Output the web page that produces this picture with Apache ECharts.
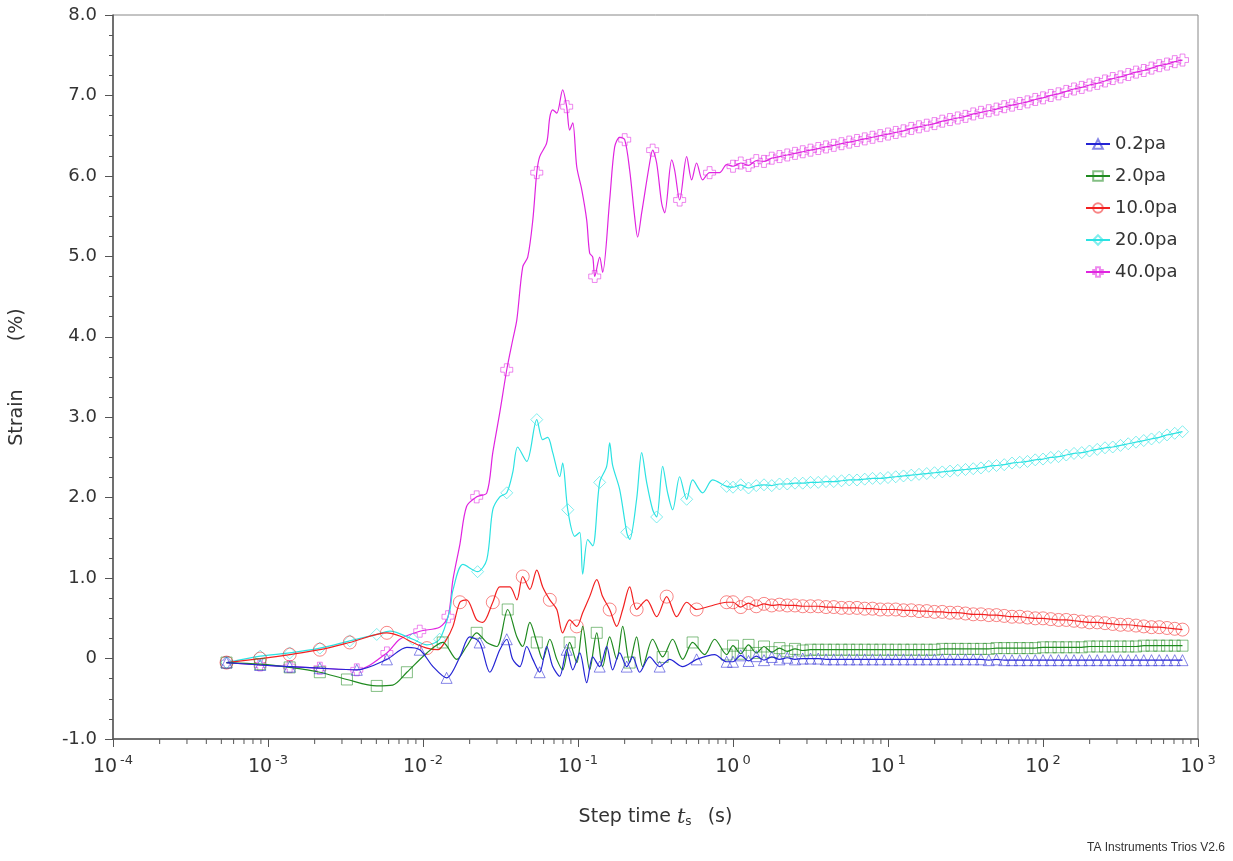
<!DOCTYPE html>
<html><head><meta charset="utf-8">
<script src="https://cdn.jsdelivr.net/npm/echarts@6/dist/echarts.min.js"></script>
<style>html,body{margin:0;padding:0;background:#fff}#c{width:1233px;height:861px}</style>
</head><body><div id="c"></div>
<script>
const seriesNames = ['0.2pa', '2.0pa', '10.0pa', '20.0pa', '40.0pa'];
const xTickExponents = [-4, -3, -2, -1, 0, 1, 2, 3];

// early (oscillating) part: [step time (s), strain (%)]
const early02 = [[5.4e-4,-0.05],[8.9e-4,-0.08],[1.38e-3,-0.10],[2.16e-3,-0.12],[3.74e-3,-0.14],[5.85e-3,-0.01],[7.87e-3,0.14],[9.53e-3,0.11],[0.0116,-0.10],[0.0142,-0.24],[0.0173,0.02],[0.0200,0.27],[0.0232,0.20],[0.0270,-0.17],[0.0313,0.11],[0.0347,0.24],[0.0379,-0.01],[0.0421,-0.10],[0.0467,0.15],[0.0511,-0.01],[0.0566,-0.17],[0.0628,0.15],[0.0687,-0.10],[0.0762,-0.22],[0.0845,0.11],[0.0925,-0.14],[0.1026,0.07],[0.1138,-0.30],[0.1245,0.02],[0.1380,-0.10],[0.1531,0.15],[0.1673,-0.14],[0.1858,0.07],[0.2062,-0.10],[0.2252,0.02],[0.2499,-0.17],[0.2899,0.02],[0.3363,-0.10],[0.3903,-0.01],[0.4733,-0.10],[0.5824,-0.01],[0.7610,0.05],[0.9099,-0.04]];
const early2 = [[5.4e-4,-0.05],[8.9e-4,-0.07],[1.38e-3,-0.11],[2.16e-3,-0.17],[3.23e-3,-0.26],[5.03e-3,-0.34],[6.38e-3,-0.33],[7.87e-3,-0.17],[0.0106,0.07],[0.0134,0.20],[0.0165,-0.01],[0.0191,0.15],[0.0222,0.32],[0.0258,0.20],[0.0299,0.15],[0.0352,0.61],[0.0403,0.27],[0.0440,0.15],[0.0489,0.45],[0.0542,0.20],[0.0592,-0.01],[0.0658,0.24],[0.0730,-0.01],[0.0796,-0.14],[0.0883,0.20],[0.0982,-0.05],[0.1072,0.40],[0.1189,-0.14],[0.1321,0.32],[0.1442,-0.10],[0.1601,0.27],[0.1777,-0.01],[0.1942,0.40],[0.2155,-0.05],[0.2389,0.27],[0.2612,-0.10],[0.3031,0.24],[0.3517,0.02],[0.4080,0.24],[0.4733,-0.01],[0.5489,0.20],[0.6560,0.05],[0.7610,0.24],[0.9099,0.05]];
const early10 = [[5.4e-4,-0.05],[8.9e-4,0.00],[1.38e-3,0.05],[2.16e-3,0.11],[3.37e-3,0.20],[5.85e-3,0.32],[7.08e-3,0.28],[8.59e-3,0.20],[0.0106,0.13],[0.0125,0.11],[0.0140,0.22],[0.0156,0.40],[0.0173,0.70],[0.0191,0.73],[0.0222,0.48],[0.0243,0.45],[0.0282,0.70],[0.0313,0.89],[0.0363,0.89],[0.0403,0.73],[0.0440,1.02],[0.0489,0.86],[0.0542,1.10],[0.0592,0.89],[0.0658,0.73],[0.0730,0.61],[0.0796,0.32],[0.0883,0.48],[0.0982,0.40],[0.1072,0.57],[0.1189,0.77],[0.1321,0.98],[0.1442,0.77],[0.1601,0.61],[0.1777,0.40],[0.1942,0.61],[0.2155,0.89],[0.2389,0.61],[0.2773,0.73],[0.3217,0.52],[0.3733,0.77],[0.4330,0.52],[0.5024,0.70],[0.5824,0.61],[0.7063,0.65],[0.9099,0.70]];
const early20 = [[5.4e-4,-0.05],[8.9e-4,0.03],[1.38e-3,0.07],[2.16e-3,0.13],[3.37e-3,0.22],[5.03e-3,0.30],[6.11e-3,0.34],[8.59e-3,0.24],[0.0106,0.17],[0.0128,0.24],[0.0149,0.60],[0.0156,0.85],[0.0181,1.17],[0.0225,1.08],[0.0258,1.23],[0.0282,1.85],[0.0313,2.01],[0.0347,2.06],[0.0379,2.31],[0.0408,2.63],[0.0467,2.45],[0.0542,2.97],[0.0592,2.72],[0.0638,2.75],[0.0687,2.56],[0.0762,2.26],[0.0796,2.43],[0.0859,1.85],[0.0953,1.52],[0.1026,1.57],[0.1072,1.05],[0.1156,1.48],[0.1245,1.40],[0.1380,2.19],[0.1531,2.39],[0.1601,2.68],[0.1673,2.40],[0.1858,2.10],[0.2062,1.57],[0.2155,1.48],[0.2389,1.98],[0.2575,2.56],[0.2773,2.19],[0.3031,1.85],[0.3217,1.76],[0.3517,2.39],[0.3787,2.06],[0.4080,1.85],[0.4527,2.26],[0.5024,1.98],[0.5489,2.22],[0.6365,2.06],[0.7384,2.22],[0.9099,2.14]];
const early40 = [[5.4e-4,-0.05],[8.9e-4,-0.08],[1.38e-3,-0.10],[2.16e-3,-0.12],[3.74e-3,-0.14],[5.85e-3,0.07],[7.08e-3,0.24],[9.53e-3,0.34],[0.0128,0.39],[0.0145,0.52],[0.0156,0.98],[0.0173,1.42],[0.0191,1.89],[0.0222,2.01],[0.0258,2.06],[0.0282,2.56],[0.0313,3.06],[0.0347,3.59],[0.0379,3.96],[0.0403,4.21],[0.0440,4.87],[0.0474,4.99],[0.0511,5.45],[0.0542,6.04],[0.0566,6.24],[0.0628,6.41],[0.0658,6.73],[0.0687,6.82],[0.0730,6.78],[0.0796,7.07],[0.0845,6.86],[0.0883,6.57],[0.0925,6.66],[0.0982,6.11],[0.1057,5.83],[0.1138,5.45],[0.1189,5.04],[0.1245,4.99],[0.1282,4.75],[0.1380,4.99],[0.1442,4.80],[0.1601,5.70],[0.1724,6.36],[0.1858,6.48],[0.2001,6.45],[0.2155,6.07],[0.2321,5.49],[0.2425,5.24],[0.2575,5.54],[0.2899,6.16],[0.3031,6.32],[0.3217,6.16],[0.3465,5.66],[0.3624,5.54],[0.4022,6.20],[0.4204,6.07],[0.4527,5.70],[0.5024,6.24],[0.5408,5.95],[0.5824,6.16],[0.6365,5.95],[0.7063,6.04],[0.8195,6.04],[0.9099,6.14]];

// late (creep) part: common step times and strain values per series
const lateTime = [1,1.122,1.259,1.413,1.585,1.778,1.995,2.239,2.512,2.818,
  3.162,3.548,3.981,4.467,5.012,5.623,6.310,7.079,7.943,8.913,
  10,11.22,12.59,14.13,15.85,17.78,19.95,22.39,25.12,28.18,
  31.62,35.48,39.81,44.67,50.12,56.23,63.10,70.79,79.43,89.13,
  100,112.2,125.9,141.3,158.5,177.8,199.5,223.9,251.2,281.8,
  316.2,354.8,398.1,446.7,501.2,562.3,631.0,707.9,794.3];
const late02 = [-0.04,0.04,-0.03,0.03,-0.02,0.02,-0.01,0.01,-0.01,0.00,
  0.00,0.00,-0.01,-0.01,-0.01,-0.01,-0.01,-0.01,-0.01,-0.01,
  -0.01,-0.01,-0.01,-0.01,-0.01,-0.01,-0.01,-0.01,-0.01,-0.01,
  -0.01,-0.01,-0.01,-0.02,-0.01,-0.02,-0.02,-0.02,-0.02,-0.02,
  -0.02,-0.02,-0.02,-0.02,-0.02,-0.02,-0.02,-0.02,-0.02,-0.02,
  -0.02,-0.02,-0.02,-0.02,-0.02,-0.02,-0.02,-0.02,-0.02];
const late2 = [0.16,0.06,0.17,0.07,0.15,0.08,0.13,0.09,0.12,0.10,
  0.11,0.11,0.11,0.11,0.11,0.11,0.11,0.11,0.11,0.11,
  0.11,0.11,0.11,0.11,0.11,0.11,0.11,0.12,0.12,0.12,
  0.12,0.12,0.12,0.12,0.13,0.13,0.13,0.13,0.13,0.13,
  0.14,0.14,0.14,0.14,0.14,0.14,0.15,0.15,0.15,0.15,
  0.15,0.15,0.15,0.16,0.16,0.16,0.16,0.16,0.16];
const late10 = [0.70,0.64,0.69,0.65,0.68,0.66,0.67,0.66,0.66,0.65,
  0.65,0.65,0.64,0.64,0.63,0.63,0.63,0.62,0.62,0.61,
  0.61,0.61,0.60,0.60,0.59,0.59,0.58,0.58,0.57,0.57,
  0.56,0.55,0.55,0.54,0.54,0.53,0.52,0.52,0.51,0.50,
  0.50,0.49,0.48,0.48,0.47,0.46,0.45,0.45,0.44,0.43,
  0.42,0.42,0.41,0.40,0.39,0.39,0.38,0.37,0.36];
const late20 = [2.13,2.16,2.12,2.15,2.16,2.15,2.17,2.17,2.18,2.18,
  2.19,2.19,2.20,2.20,2.21,2.22,2.22,2.23,2.24,2.24,
  2.25,2.26,2.27,2.28,2.29,2.30,2.31,2.32,2.33,2.34,
  2.35,2.36,2.37,2.39,2.40,2.41,2.43,2.44,2.45,2.47,
  2.48,2.50,2.51,2.53,2.55,2.56,2.58,2.60,2.62,2.63,
  2.65,2.67,2.69,2.71,2.73,2.75,2.78,2.80,2.82];
const late40 = [6.12,6.16,6.13,6.19,6.18,6.22,6.24,6.26,6.28,6.30,
  6.32,6.34,6.36,6.38,6.40,6.42,6.44,6.46,6.48,6.50,
  6.52,6.54,6.56,6.59,6.61,6.63,6.65,6.68,6.70,6.72,
  6.74,6.77,6.79,6.81,6.83,6.86,6.88,6.90,6.92,6.95,
  6.97,7.00,7.02,7.05,7.08,7.10,7.13,7.15,7.18,7.21,
  7.23,7.26,7.29,7.31,7.34,7.37,7.39,7.42,7.44];

const colors = ['#2424d4', '#1f8a1f', '#f22020', '#2ce2e2', '#e024e0'];
const markerColors = ['rgba(36,36,212,0.55)', 'rgba(31,138,31,0.55)', 'rgba(242,32,32,0.55)', 'rgba(44,226,226,0.6)', 'rgba(224,36,224,0.55)'];
const symbols = ['triangle', 'rect', 'circle', 'diamond', 'path://M3,0H7V3H10V7H7V10H3V7H0V3H3Z'];
const symbolSizes = [11, 11, 13, 12, 12];
const earlyList = [early02, early2, early10, early20, early40];
const lateList = [late02, late2, late10, late20, late40];

const chart = echarts.init(document.getElementById('c'), null, {renderer: 'canvas'});

const lineSeries = seriesNames.map((name, k) => {
  const data = earlyList[k].concat(lateTime.map((t, i) => [t, lateList[k][i]]));
  const nEarly = earlyList[k].length;
  const shown = new Set();
  let last = -Infinity;
  data.forEach((d, i) => {
    const lt = Math.log10(d[0]);
    if (i >= nEarly || lt - last >= 0.17) { shown.add(i); last = lt; }
  });
  return {
    name: name,
    type: 'line',
    data: data,
    smooth: 0.3,
    symbol: symbols[k],
    symbolSize: (v, p) => shown.has(p.dataIndex) ? symbolSizes[k] : 0,
    showSymbol: true,
    lineStyle: {color: colors[k], width: 1.2},
    itemStyle: {color: 'rgba(255,255,255,0)', borderColor: markerColors[k], borderWidth: 1},
    emphasis: {disabled: true},
    z: 10 - k
  };
});

const minorTickTimes = [];
for (let e = -4; e < 3; e++) for (let m = 2; m <= 9; m++) minorTickTimes.push(m * Math.pow(10, e));

const option = {
  animation: false,
  backgroundColor: '#fff',
  grid: {left: 113, right: 35, top: 15, bottom: 122, show: true, borderColor: '#888', borderWidth: 1},
  legend: {
    orient: 'vertical', left: 1080, top: 130, itemGap: 14, itemWidth: 24, itemHeight: 12,
    data: seriesNames,
    textStyle: {fontFamily: 'DejaVu Sans', fontSize: 18, color: '#333'}
  },
  xAxis: {
    type: 'log', logBase: 10, min: 1e-4, max: 1e3, interval: 1,
    axisLine: {onZero: false, lineStyle: {color: '#555', width: 1.5}},
    axisTick: {show: true, inside: false, length: 8, lineStyle: {color: '#555'}},
    splitLine: {show: false},
    axisLabel: {
      margin: 14,
      formatter: v => '{b|10}{s|' + Math.round(Math.log10(v)) + '}',
      rich: {
        b: {fontFamily: 'DejaVu Sans', fontSize: 19, color: '#333', lineHeight: 24, verticalAlign: 'bottom'},
        s: {fontFamily: 'DejaVu Sans', fontSize: 13, color: '#333', padding: [0, 0, 10, 3], verticalAlign: 'bottom'}
      }
    },
    name: 'Step time {it|t}{sub|s}  (s)',
    nameLocation: 'middle', nameGap: 68,
    nameTextStyle: {
      fontFamily: 'DejaVu Sans', fontSize: 19, color: '#333',
      rich: {
        it: {fontFamily: 'DejaVu Serif', fontStyle: 'italic', fontSize: 21, color: '#333'},
        sub: {fontFamily: 'DejaVu Sans', fontSize: 12, color: '#333', padding: [8, 4, 0, 0]}
      }
    }
  },
  yAxis: {
    type: 'value', min: -1, max: 8, interval: 1,
    axisLine: {show: true, onZero: false, lineStyle: {color: '#555', width: 1.5}},
    axisTick: {show: true, inside: false, length: 8, lineStyle: {color: '#555'}},
    minorTick: {show: true, splitNumber: 4, length: 4, lineStyle: {color: '#555'}},
    splitLine: {show: false},
    axisLabel: {
      margin: 16, fontFamily: 'DejaVu Sans', fontSize: 18, color: '#333',
      formatter: v => v === 0 ? '0' : v.toFixed(1)
    },
    name: 'Strain        (%)',
    nameLocation: 'middle', nameGap: 86, nameRotate: 90,
    nameTextStyle: {fontFamily: 'DejaVu Sans', fontSize: 19, color: '#333'}
  },
  graphic: [{
    type: 'text', right: 8, top: 842,
    style: {text: 'TA Instruments Trios V2.6', font: '12px "Liberation Sans"', fill: '#333'}
  }],
  series: [{
    type: 'custom', silent: true, clip: false, z: 20,
    data: minorTickTimes.map(t => [t, -1]),
    renderItem: (params, api) => {
      const p = api.coord([api.value(0), -1]);
      return {type: 'line', shape: {x1: p[0], y1: p[1], x2: p[0], y2: p[1] + 5}, style: {stroke: '#555', lineWidth: 1}};
    }
  }].concat(lineSeries.slice().reverse())
};
chart.setOption(option);
</script>
</body></html>
